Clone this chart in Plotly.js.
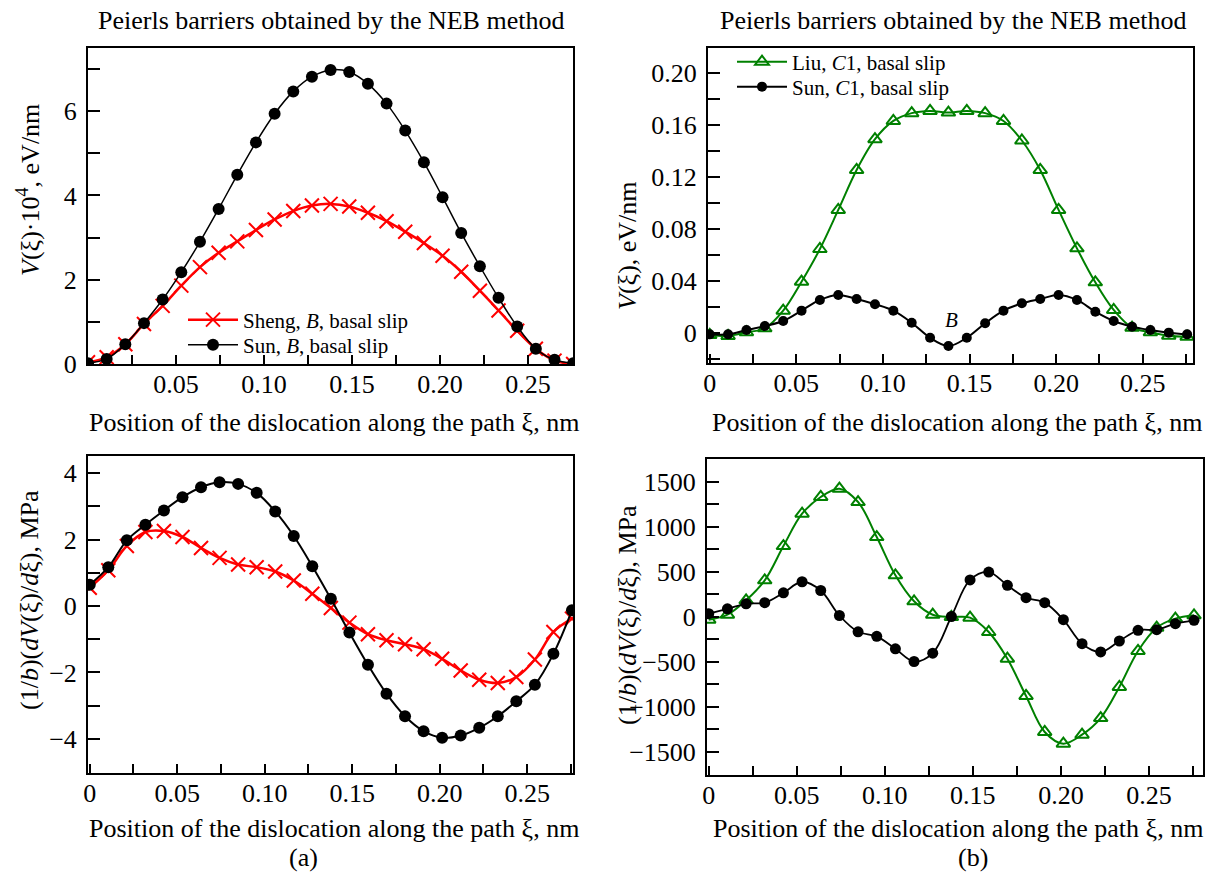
<!DOCTYPE html>
<html><head><meta charset="utf-8">
<script src="https://cdn.plot.ly/plotly-3.0.1.min.js"></script>
<style>html,body{margin:0;padding:0;background:#fff}#chart{width:1219px;height:874px}</style>
</head><body><div id="chart"></div>
<script>
// Position along the Peierls path, nm
const xi = [0, 0.0106, 0.0212, 0.0318, 0.0424, 0.053, 0.0636, 0.0742, 0.0848, 0.0954, 0.106, 0.1166, 0.1272, 0.1378,
            0.1484, 0.159, 0.1696, 0.1802, 0.1908, 0.2014, 0.212, 0.2226, 0.2332, 0.2438, 0.2544, 0.265, 0.2756];

// (a) top: V(xi)*10^4, eV/nm
const sunB_V = [0.02, 0.12, 0.47, 0.97, 1.53, 2.18, 2.90, 3.68, 4.49, 5.26, 5.94, 6.47, 6.82, 6.98,
                6.93, 6.65, 6.18, 5.54, 4.79, 3.96, 3.11, 2.32, 1.57, 0.89, 0.36, 0.10, 0.02];
const shengB_V = [0.04, 0.16, 0.47, 0.95, 1.38, 1.86, 2.30, 2.64, 2.91, 3.18, 3.43, 3.63, 3.76, 3.80,
                  3.74, 3.59, 3.39, 3.14, 2.87, 2.57, 2.19, 1.74, 1.27, 0.79, 0.36, 0.08, 0.0];
// (a) bottom: stress, MPa
const sunB_S = [0.64, 1.17, 1.98, 2.45, 2.88, 3.28, 3.58, 3.73, 3.68, 3.41, 2.85, 2.11, 1.20, 0.22,
                -0.80, -1.77, -2.64, -3.32, -3.77, -3.97, -3.90, -3.67, -3.32, -2.87, -2.37, -1.44, -0.13];
const shengB_S = [0.55, 1.08, 1.81, 2.23, 2.26, 2.08, 1.75, 1.45, 1.25, 1.17, 1.04, 0.77, 0.37, -0.06,
                  -0.50, -0.85, -1.03, -1.15, -1.30, -1.59, -1.94, -2.22, -2.32, -2.14, -1.61, -0.78, -0.38];
// (b) top: V(xi), eV/nm
const liuC1_V = [-0.0013, -0.002, 0.0008, 0.0038, 0.0174, 0.0396, 0.0647, 0.0947, 0.1254, 0.149, 0.163, 0.169, 0.1707, 0.1694,
                 0.1707, 0.169, 0.163, 0.148, 0.1254, 0.0947, 0.0652, 0.0391, 0.0179, 0.0043, 0.0008, -0.0018, -0.0026];
const sunC1_V = [-0.0008, -0.0008, 0.0025, 0.0056, 0.0094, 0.0174, 0.0256, 0.0294, 0.0263, 0.0223, 0.0174, 0.0081, -0.0034, -0.0098,
                 -0.0034, 0.0077, 0.0174, 0.023, 0.0263, 0.0294, 0.0256, 0.0166, 0.0094, 0.0051, 0.0025, 0.0005, -0.0008];
// (b) bottom: stress, MPa
const liuC1_S = [-33, 22, 182, 404, 785, 1144, 1330, 1422, 1274, 885, 460, 171, 22, -3,
                 -11, -170, -467, -881, -1281, -1411, -1311, -1126, -781, -381, -122, -22, 15];
const sunC1_S = [33, 87, 143, 156, 265, 388, 291, 13, -168, -218, -357, -498, -405, 2,
                 408, 496, 348, 211, 156, -33, -300, -392, -270, -151, -144, -78, -40];

// Tick labels
const xTickVals = [0, 0.05, 0.10, 0.15, 0.20, 0.25];
const xTickText = ['0', '0.05', '0.10', '0.15', '0.20', '0.25'];
const xMinorVals = [0.025, 0.075, 0.125, 0.175, 0.225, 0.275];
const yA1Vals = [0, 2, 4, 6];
const yA1Text = ['0', '2', '4', '6'];
const yA1Minor = [1, 3, 5, 7];
const yB1Vals = [0, 0.04, 0.08, 0.12, 0.16, 0.20];
const yB1Text = ['0', '0.04', '0.08', '0.12', '0.16', '0.20'];
const yB1Minor = [-0.02, 0.02, 0.06, 0.10, 0.14, 0.18];
const yA2Vals = [-4, -2, 0, 2, 4];
const yA2Text = ['\u22124', '\u22122', '0', '2', '4'];
const yA2Minor = [-5, -3, -1, 1, 3];
const yB2Vals = [-1500, -1000, -500, 0, 500, 1000, 1500];
const yB2Text = ['\u22121500', '\u22121000', '\u2212500', '0', '500', '1000', '1500'];
const yB2Minor = [-1750, -1250, -750, -250, 250, 750, 1250, 1750];

const FONT = 'Liberation Serif, Times New Roman, serif';
const RED = '#ff0000', GREEN = '#008000', BLACK = '#000000';
const W = 1219, H = 874;

function px2x(p) { return p / W; }
function px2y(p) { return 1 - p / H; }

function axis(dom, range, anchor, vals, text, minor, len, standoff) {
  return {
    domain: dom, range: range, anchor: anchor, autorange: false,
    showline: true, mirror: true, linecolor: BLACK, linewidth: 2,
    ticks: 'inside', ticklen: len, tickwidth: 2, tickcolor: BLACK,
    tickmode: 'array', tickvals: vals, ticktext: text,
    minor: {tickmode: 'array', tickvals: minor, ticks: 'inside', ticklen: len, tickwidth: 2, tickcolor: BLACK, showgrid: false},
    ticklabelstandoff: standoff,
    showgrid: false, zeroline: false,
    tickfont: {family: FONT, size: 26, color: BLACK}
  };
}

const dotLine = (x, y, xa, ya, name, size, lw, legend, show) => ({
  x: x, y: y, xaxis: xa, yaxis: ya, name: name, type: 'scatter', mode: 'lines+markers',
  line: {color: BLACK, width: lw, shape: 'spline', smoothing: 1},
  marker: {symbol: 'circle', size: size, color: BLACK},
  legend: legend, showlegend: show
});

const traces = [
  {x: xi, y: shengB_V, xaxis: 'x', yaxis: 'y', name: 'Sheng, <i>B</i>, basal slip', type: 'scatter', mode: 'lines+markers',
   line: {color: RED, width: 2.5, shape: 'spline', smoothing: 1},
   marker: {symbol: 'x-thin-open', size: 14, color: RED, line: {color: RED, width: 2}}, legend: 'legend', showlegend: true},
  dotLine(xi, sunB_V, 'x', 'y', 'Sun, <i>B</i>, basal slip', 12, 1.5, 'legend2', true),

  {x: xi, y: liuC1_V, xaxis: 'x2', yaxis: 'y2', name: 'Liu, <i>C</i>1, basal slip', type: 'scatter', mode: 'lines+markers',
   line: {color: GREEN, width: 2, shape: 'spline', smoothing: 1},
   marker: {symbol: 'triangle-up-open', size: 12, color: GREEN, line: {color: GREEN, width: 2}}, legend: 'legend3', showlegend: true},
  dotLine(xi, sunC1_V, 'x2', 'y2', 'Sun, <i>C</i>1, basal slip', 10, 2, 'legend4', true),

  {x: xi, y: shengB_S, xaxis: 'x3', yaxis: 'y3', name: 'Sheng', type: 'scatter', mode: 'lines+markers',
   line: {color: RED, width: 2.5, shape: 'spline', smoothing: 1},
   marker: {symbol: 'x-thin-open', size: 14, color: RED, line: {color: RED, width: 2}}, showlegend: false},
  dotLine(xi, sunB_S, 'x3', 'y3', 'Sun', 12, 2, 'legend', false),

  {x: xi, y: liuC1_S, xaxis: 'x4', yaxis: 'y4', name: 'Liu', type: 'scatter', mode: 'lines+markers',
   line: {color: GREEN, width: 2, shape: 'spline', smoothing: 1},
   marker: {symbol: 'triangle-up-open', size: 12, color: GREEN, line: {color: GREEN, width: 2}}, showlegend: false},
  dotLine(xi, sunC1_S, 'x4', 'y4', 'Sun', 11, 1.8, 'legend', false)
];

const ann = (text, x, y, opts) => Object.assign({
  text: text, x: x, y: y, xref: 'paper', yref: 'paper', showarrow: false,
  xanchor: 'center', yanchor: 'middle', font: {family: FONT, size: 26, color: BLACK}
}, opts || {});

const legendAt = (xp, yp) => ({
  x: px2x(xp), y: px2y(yp), xanchor: 'left', yanchor: 'middle', bgcolor: 'rgba(0,0,0,0)',
  font: {family: FONT, size: 21, color: BLACK}, itemwidth: 50, tracegroupgap: 0
});

const TITLE = 'Peierls barriers obtained by the NEB method';
const XTITLE = 'Position of the dislocation along the path \u03be, nm';
const YSTRESS = '(1/<i>b</i>)(<i>dV</i>(\u03be)/<i>d</i>\u03be), MPa';

const layout = {
  width: W, height: H, margin: {l: 0, r: 0, t: 0, b: 0},
  paper_bgcolor: '#fff', plot_bgcolor: '#fff',
  font: {family: FONT, size: 26, color: BLACK},
  xaxis: axis([px2x(88), px2x(573)], [0, 0.2755], 'y', xTickVals.slice(1), xTickText.slice(1), xMinorVals, 9, -4),
  yaxis: axis([px2y(364), px2y(48)], [0, 7.5], 'x', yA1Vals, yA1Text, yA1Minor, 12, 4),
  xaxis2: axis([px2x(708), px2x(1193)], [-0.001, 0.279], 'y2', xTickVals, xTickText, xMinorVals, 9, -4),
  yaxis2: axis([px2y(363), px2y(48)], [-0.0228, 0.219], 'x2', yB1Vals, yB1Text, yB1Minor, 12, 4),
  xaxis3: axis([px2x(88), px2x(573)], [-0.001, 0.2762], 'y3', xTickVals, xTickText, xMinorVals, 9, -4),
  yaxis3: axis([px2y(773), px2y(456)], [-5.03, 4.52], 'x3', yA2Vals, yA2Text, yA2Minor, 12, 4),
  xaxis4: axis([px2x(707), px2x(1203)], [-0.001, 0.2807], 'y4', xTickVals, xTickText, xMinorVals, 9, -4),
  yaxis4: axis([px2y(775), px2y(459)], [-1759, 1752], 'x4', yB2Vals, yB2Text, yB2Minor, 12, 4),
  legend: legendAt(183, 320),
  legend2: legendAt(183, 345),
  legend3: legendAt(732, 62),
  legend4: legendAt(732, 87),
  annotations: [
    ann(TITLE, px2x(331), px2y(20)),
    ann(TITLE, px2x(953), px2y(20)),
    ann(XTITLE, px2x(334), px2y(422)),
    ann(XTITLE, px2x(957), px2y(422)),
    ann(XTITLE, px2x(334), px2y(828)),
    ann(XTITLE, px2x(958), px2y(828)),
    ann('(a)', px2x(303), px2y(857)),
    ann('(b)', px2x(973), px2y(857)),
    ann('<i>V</i>(\u03be)\u00b710<sup>4</sup>, eV/nm', px2x(29), px2y(190), {textangle: -90}),
    ann('<i>V</i>(\u03be), eV/nm', px2x(628), px2y(246), {textangle: -90}),
    ann(YSTRESS, px2x(29), px2y(600), {textangle: -90}),
    ann(YSTRESS, px2x(627), px2y(615), {textangle: -90}),
    {text: '<i>B</i>', x: 0.1396, y: 0.0105, xref: 'x2', yref: 'y2', showarrow: false,
     xanchor: 'center', yanchor: 'middle', font: {family: FONT, size: 21, color: BLACK}}
  ]
};

Plotly.newPlot('chart', traces, layout, {displayModeBar: false, staticPlot: true});
</script>
</body></html>
